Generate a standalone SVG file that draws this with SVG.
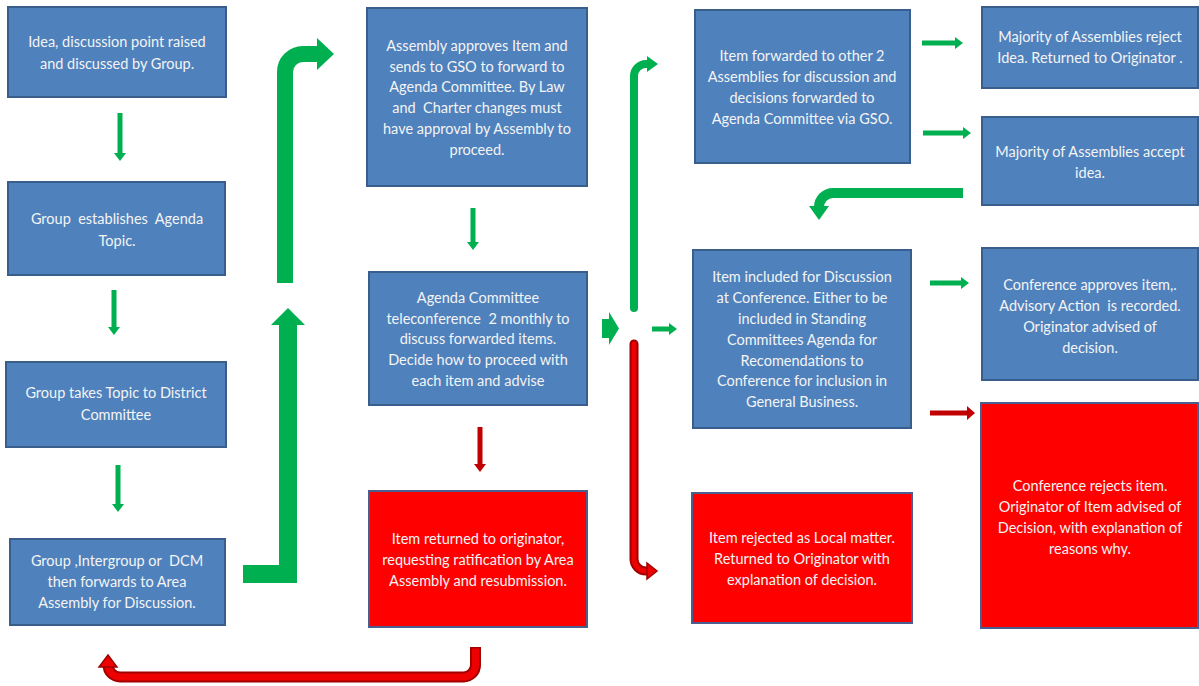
<svg xmlns="http://www.w3.org/2000/svg" width="1199" height="686" viewBox="0 0 1199 686">
<style>
.box{fill:#4f81bd;stroke:#3a5e8c;stroke-width:2}
.red{fill:#ff0000;stroke:#4a5f8f;stroke-width:2}
.t{font-family:Lato,"Liberation Sans",sans-serif;font-size:14.5px;fill:#f4f4f4;text-anchor:middle}
.g{fill:#00b050}
.dr{fill:#c00000}
.gs{fill:none;stroke:#00b050}
</style>
<rect width="1199" height="686" fill="#ffffff"/>
<g id="connectors">
  <!-- small green down arrows -->
  <polygon class="g" points="117.5,113 122.5,113 122.5,153 126,153 120,161 114,153 117.5,153"/>
  <polygon class="g" points="111.5,290 116.5,290 116.5,327 120,327 114,335 108,327 111.5,327"/>
  <polygon class="g" points="115.5,465 120.5,465 120.5,504 124,504 118,512 112,504 115.5,504"/>
  <polygon class="g" points="470.5,208 475.5,208 475.5,242 479,242 473,250 467,242 470.5,242"/>
  <polygon class="dr" points="477.5,427 482.5,427 482.5,464 486,464 480,472 474,464 477.5,464"/>
  <!-- right arrows -->
  <polygon class="g" points="922,40.5 955,40.5 955,37 963,43 955,49 955,45.5 922,45.5"/>
  <polygon class="g" points="923,130.5 963,130.5 963,127 971,133 963,139 963,135.5 923,135.5"/>
  <polygon class="g" points="930,280.5 961,280.5 961,277 969,283 961,289 961,285.5 930,285.5"/>
  <polygon class="dr" points="930,410.5 967,410.5 967,406 975,413 967,420 967,415.5 930,415.5"/>
  <polygon class="g" points="652,326.5 669,326.5 669,323 677,329 669,335 669,331.5 652,331.5"/>
  <!-- junction block arrow -->
  <polygon class="g" points="602,319 609,319 609,312 619,328.5 609,345 609,338 602,338"/>
  <!-- big green L arrow (lower) -->
  <polygon class="g" points="243,565 279,565 279,325 271,325 288,308 305,325 297,325 297,583 243,583"/>
  <!-- big green bent arrow (upper) -->
  <path class="gs" stroke-width="16" d="M285,283 V72 A18,18 0 0 1 303,54 H318"/>
  <polygon class="g" points="317,38 334,54 317,70"/>
  <!-- thin green to top right -->
  <path class="gs" stroke-width="8" stroke-linecap="round" d="M634,308 V76 A12,12 0 0 1 646,64 H648"/>
  <polygon class="g" points="647,56 658,64 647,72"/>
  <!-- thin red down to rejected local -->
  <path fill="none" stroke="#a00000" stroke-width="9" stroke-linecap="round" d="M634,344 V559 A12,12 0 0 0 646,571 H648"/>
  <path fill="none" stroke="#ee0000" stroke-width="5" stroke-linecap="round" d="M634,344 V559 A12,12 0 0 0 646,571 H648"/>
  <polygon fill="#ee0000" stroke="#a00000" stroke-width="1.5" points="647,563 657,571 647,579"/>
  <!-- green bent arrow from accept to conference -->
  <path class="gs" stroke-width="10" d="M963,193 H833 A14,14 0 0 0 819,207 V208"/>
  <polygon class="g" points="809,206 829,206 819,220"/>
  <!-- red U arrow bottom -->
  <path fill="none" stroke="#a00000" stroke-width="11" stroke-linejoin="round" d="M475.5,647 V665 A12,12 0 0 1 463.5,677 H120 A12,12 0 0 1 108,665 V666"/>
  <path fill="none" stroke="#ee0000" stroke-width="7" stroke-linejoin="round" d="M475.5,648.5 V665 A12,12 0 0 1 463.5,677 H120 A12,12 0 0 1 108,665 V666"/>
  <polygon fill="#ee0000" stroke="#a00000" stroke-width="1.5" points="99,667 117,667 108,655"/>
</g>
<g id="n1"><rect class="box" x="8" y="7" width="218" height="90"/>
<text class="t"><tspan x="117" y="47">Idea, discussion point raised</tspan><tspan x="117" y="69">and discussed by Group.</tspan></text></g>
<g id="n2"><rect class="box" x="8" y="182" width="217" height="93"/>
<text class="t" xml:space="preserve"><tspan x="117" y="224">Group  establishes  Agenda</tspan><tspan x="117" y="246">Topic.</tspan></text></g>
<g id="n3"><rect class="box" x="6" y="362" width="220" height="85"/>
<text class="t"><tspan x="116" y="398">Group takes Topic to District</tspan><tspan x="116" y="420">Committee</tspan></text></g>
<g id="n4"><rect class="box" x="10" y="539" width="215" height="86"/>
<text class="t" xml:space="preserve"><tspan x="117" y="566">Group ,Intergroup or  DCM</tspan><tspan x="117" y="587">then forwards to Area</tspan><tspan x="117" y="608">Assembly for Discussion.</tspan></text></g>
<g id="n5"><rect class="box" x="367" y="8" width="220" height="178"/>
<text class="t" xml:space="preserve"><tspan x="477" y="51">Assembly approves Item and</tspan><tspan x="477" y="72">sends to GSO to forward to</tspan><tspan x="477" y="92">Agenda Committee. By Law</tspan><tspan x="477" y="113">and  Charter changes must</tspan><tspan x="477" y="134">have approval by Assembly to</tspan><tspan x="477" y="155">proceed.</tspan></text></g>
<g id="n6"><rect class="box" x="369" y="272" width="218" height="133"/>
<text class="t" xml:space="preserve"><tspan x="478" y="303">Agenda Committee</tspan><tspan x="478" y="324">teleconference  2 monthly to</tspan><tspan x="478" y="344">discuss forwarded items.</tspan><tspan x="478" y="365">Decide how to proceed with</tspan><tspan x="478" y="386">each item and advise</tspan></text></g>
<g id="n7"><rect class="red" x="369" y="491" width="218" height="136"/>
<text class="t"><tspan x="478" y="544">Item returned to originator,</tspan><tspan x="478" y="565">requesting ratification by Area</tspan><tspan x="478" y="586">Assembly and resubmission.</tspan></text></g>
<g id="n8"><rect class="box" x="695" y="10" width="215" height="153"/>
<text class="t"><tspan x="802" y="61">Item forwarded to other 2</tspan><tspan x="802" y="82">Assemblies for discussion and</tspan><tspan x="802" y="103">decisions forwarded to</tspan><tspan x="802" y="124">Agenda Committee via GSO.</tspan></text></g>
<g id="n9"><rect class="box" x="693" y="250" width="218" height="178"/>
<text class="t"><tspan x="802" y="282">Item included for Discussion</tspan><tspan x="802" y="303">at Conference. Either to be</tspan><tspan x="802" y="324">included in Standing</tspan><tspan x="802" y="345">Committees Agenda for</tspan><tspan x="802" y="366">Recomendations to</tspan><tspan x="802" y="386">Conference for inclusion in</tspan><tspan x="802" y="407">General Business.</tspan></text></g>
<g id="n10"><rect class="box" x="982" y="7" width="216" height="81"/>
<text class="t"><tspan x="1090" y="42">Majority of Assemblies reject</tspan><tspan x="1090" y="63">Idea. Returned to Originator .</tspan></text></g>
<g id="n11"><rect class="box" x="982" y="117" width="216" height="88"/>
<text class="t"><tspan x="1090" y="157">Majority of Assemblies accept</tspan><tspan x="1090" y="178">idea.</tspan></text></g>
<g id="n12"><rect class="box" x="982" y="248" width="216" height="132"/>
<text class="t" xml:space="preserve"><tspan x="1090" y="290">Conference approves item,.</tspan><tspan x="1090" y="311">Advisory Action  is recorded.</tspan><tspan x="1090" y="332">Originator advised of</tspan><tspan x="1090" y="353">decision.</tspan></text></g>
<g id="n13"><rect class="red" x="692" y="493" width="220" height="130"/>
<text class="t"><tspan x="802" y="543">Item rejected as Local matter.</tspan><tspan x="802" y="564">Returned to Originator with</tspan><tspan x="802" y="585">explanation of decision.</tspan></text></g>
<g id="n14"><rect class="red" x="981" y="403" width="217" height="225"/>
<text class="t"><tspan x="1090" y="491">Conference rejects item.</tspan><tspan x="1090" y="512">Originator of Item advised of</tspan><tspan x="1090" y="533">Decision, with explanation of</tspan><tspan x="1090" y="554">reasons why.</tspan></text></g>
</svg>
